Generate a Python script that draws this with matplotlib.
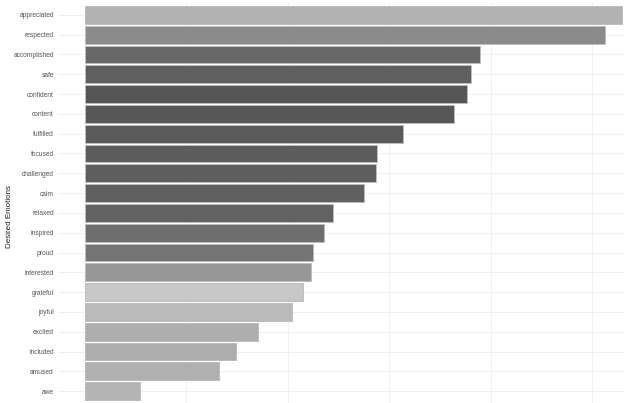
import matplotlib
matplotlib.use("Agg")
import matplotlib.pyplot as plt
import numpy as np

emotions = ["appreciated", "respected", "accomplished", "safe", "confident",
            "content", "fulfilled", "focused", "challenged", "calm",
            "relaxed", "inspired", "proud", "interested", "grateful",
            "joyful", "excited", "included", "amused", "awe"]
counts = [53.0, 51.3, 39.0, 38.1, 37.7, 36.4, 31.4, 28.8, 28.7, 27.5,
          24.5, 23.6, 22.5, 22.3, 21.5, 20.4, 17.1, 14.9, 13.2, 5.4]
fills = ["#b2b2b2", "#8b8b8b", "#676767", "#5f5f5f", "#555555",
         "#575757", "#5a5a5a", "#5d5d5d", "#5e5e5e", "#606060",
         "#626262", "#6e6e6e", "#747474", "#979797", "#c7c7c7",
         "#bababa", "#aeaeae", "#adadad", "#b0b0b0", "#b4b4b4"]

plt.rcParams['font.family'] = ['Liberation Sans', 'DejaVu Sans']

fig = plt.figure(figsize=(6.24, 4.03), dpi=100)
ax = fig.add_axes([58 / 624, 0, 1 - 58 / 624, 400 / 403])

y = np.arange(len(emotions))
ax.barh(y, counts, height=0.9, color=fills, edgecolor="#bdbdbd",
        linewidth=0.7, zorder=3)

ax.set_yticks(y)
ax.set_yticklabels(emotions, fontsize=4.8, color="#555555")
ax.set_xticks([10, 20, 30, 40, 50])
ax.tick_params(axis="both", length=0, pad=3)
ax.tick_params(axis="x", labelbottom=False)
ax.set_xlim(-2.65, 53.15)
ax.set_ylim(len(emotions) - 0.4, -0.6)
ax.grid(True, color="#eeeeee", linewidth=0.6, zorder=0)
for s in ax.spines.values():
    s.set_visible(False)
ax.set_ylabel("Desired Emotions", fontsize=5.8, color="#222222")
ax.yaxis.set_label_coords(-0.079, 0.465)

fig.savefig("out.png", dpi=100)
